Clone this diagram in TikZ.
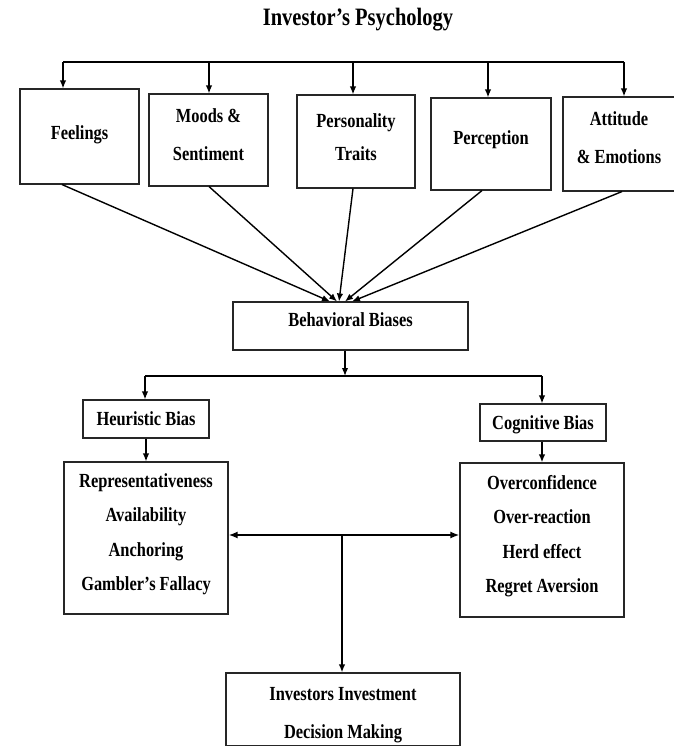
\documentclass[tikz,border=0pt]{standalone}
\usepackage{fontspec}
\setmainfont{Liberation Serif}[FakeStretch=0.82]
\usetikzlibrary{arrows.meta,calc}
\begin{document}
\begin{tikzpicture}[x=1pt,y=-1pt,
  box/.style={draw=black!85,line width=1.1pt,inner sep=0pt},
  txt/.style={align=center,inner sep=0pt,font=\bfseries\fontsize{20}{38}\selectfont},
  listtxt/.style={txt,font=\bfseries\fontsize{20}{34.5}\selectfont},
  tip/.style={-{Latex[length=8pt,width=6.5pt]}},
  arr/.style={tip,line width=1.4pt},
  thickarr/.style={tip,line width=2.3pt},
  conn/.style={line width=1.4pt}]
\useasboundingbox (0,0) rectangle (673,746);
\node[font=\bfseries\fontsize{25}{28}\selectfont] (title) at (358,20) {Investor’s Psychology};
% top boxes
\node[box,minimum width=119pt,minimum height=95pt,label={[txt,yshift=2pt]center:Feelings}] (feel) at (79.5,136.5) {};
\node[box,minimum width=119pt,minimum height=92pt,label={[txt,yshift=5pt]center:{Moods \&\\Sentiment}}] (mood) at (208.5,140) {};
\node[box,minimum width=118pt,minimum height=93pt,label={[txt,yshift=4pt]center:{Personality\\[-5pt]Traits}}] (pers) at (356,141.5) {};
\node[box,minimum width=120pt,minimum height=92pt,label={[txt,yshift=4pt]center:Perception}] (perc) at (491,144) {};
\node[box,minimum width=112pt,minimum height=94pt,label={[txt,yshift=6pt]center:{Attitude\\\& Emotions}}] (att) at (619,144) {};
% top distribution line
\coordinate (t1) at (63,62);
\coordinate (t2) at (209,62);
\coordinate (t3) at (353,62);
\coordinate (t4) at (488,62);
\coordinate (t5) at (624,62);
\draw[conn] (t1) -- (t5);
\draw[arr] (t1) -- (t1 |- feel.north);
\draw[arr] (t2) -- (t2 |- mood.north);
\draw[arr] (t3) -- (t3 |- pers.north);
\draw[arr] (t4) -- (t4 |- perc.north);
\draw[arr] (t5) -- (t5 |- att.north);
% behavioral biases
\node[box,minimum width=235pt,minimum height=48pt,label={[txt,yshift=6pt]center:Behavioral Biases}] (bb) at (350.5,326) {};
\draw[arr] ($(feel.south)+(-17.5,0)$) -- ($(bb.north)+(-20.5,0)$);
\draw[arr] ($(mood.south)+(0.5,0)$) -- ($(bb.north)+(-13.5,0)$);
\draw[arr] ($(pers.south)+(-3,0)$) -- ($(bb.north)+(-11.5,0)$);
\draw[arr] ($(perc.south)+(-9,0)$) -- ($(bb.north)+(-5.5,0)$);
\draw[arr] ($(att.south)+(3,0)$) -- ($(bb.north)+(1.5,0)$);
% split
\node[box,minimum width=126pt,minimum height=38pt,label={[txt]center:Heuristic Bias}] (heur) at (146,419) {};
\node[box,minimum width=126pt,minimum height=37pt,label={[txt,yshift=-2pt]center:Cognitive Bias}] (cog) at (543,422.5) {};
\coordinate (h) at (345,376);
\coordinate (hl) at (145,376);
\coordinate (hr) at (542,376);
\draw[arr] (h |- bb.south) -- (h);
\draw[conn] (hl) -- (hr);
\draw[arr] (hl) -- (hl |- heur.north);
\draw[arr] (hr) -- (hr |- cog.north);
% lists
\node[box,minimum width=164pt,minimum height=152pt,
  label={[listtxt,yshift=4pt]center:{Representativeness\\Availability\\Anchoring\\Gambler’s Fallacy}}] (left) at (146,538) {};
\node[box,minimum width=164pt,minimum height=154pt,
  label={[listtxt,yshift=4pt]center:{Overconfidence\\Over-reaction\\Herd effect\\Regret Aversion}}] (right) at (542,540) {};
\draw[arr] (heur.south) -- (heur.south |- left.north);
\draw[thickarr] (hr |- cog.south) -- (hr |- right.north);
% decision
\node[box,minimum width=234pt,minimum height=73pt,
  label={[txt,yshift=-5.5pt]center:{Investors Investment\\Decision Making}}] (dec) at (343,709.5) {};
\coordinate (m) at (342,535);
\draw[{Latex[length=9pt,width=7pt]}-{Latex[length=9pt,width=7pt]},line width=2.8pt] (m -| left.east) -- (m -| right.west);
\draw[thickarr] (m) -- (m |- dec.north);
\end{tikzpicture}
\end{document}
